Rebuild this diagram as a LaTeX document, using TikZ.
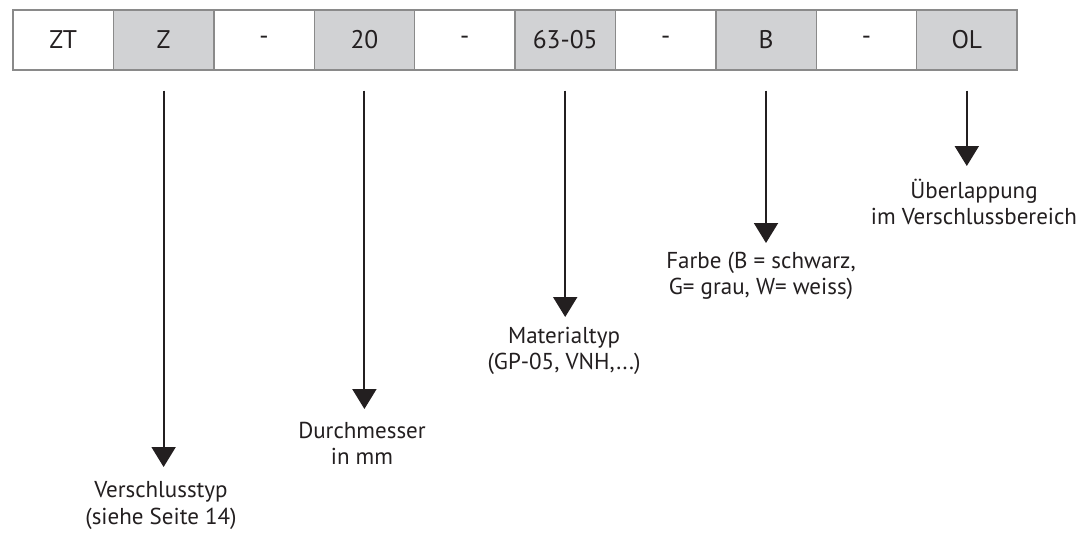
\documentclass[tikz,border=0pt]{standalone}
\usepackage{fontspec}
\setmainfont{PT Sans}
\usetikzlibrary{arrows.meta}
\definecolor{cellgrey}{RGB}{209,210,212}
\definecolor{cellline}{RGB}{138,138,138}
\definecolor{ink}{RGB}{35,31,32}
\tikzset{
  cellbox/.style={draw=cellline, line width=1.4pt, minimum width=100.4pt, minimum height=60pt,
    inner sep=0pt, text=ink, font=\fontsize{25.5pt}{29pt}\selectfont},
  greycell/.style={cellbox, fill=cellgrey},
  whitecell/.style={cellbox, fill=white},
  arr/.style={draw=ink, line width=2pt, shorten <=20pt, -{Triangle[length=20pt,width=24pt]}},
  lbl/.style={anchor=base, align=center, inner sep=0pt, text=ink, font=\fontsize{23pt}{26.5pt}\selectfont}
}
\begin{document}
\begin{tikzpicture}[x=1pt,y=-1pt]
\useasboundingbox (0,0) rectangle (1078,533);
\fill[white] (0,0) rectangle (1078,533);
% cells
\node[whitecell] (c1) at (63.2,40) {ZT};
\node[greycell]  (c2) at (163.6,40) {Z};
\node[whitecell] (c3) at (264.0,40) {-};
\node[greycell]  (c4) at (364.4,40) {20};
\node[whitecell] (c5) at (464.8,40) {-};
\node[greycell]  (c6) at (565.2,40) {63-05};
\node[whitecell] (c7) at (665.6,40) {-};
\node[greycell]  (c8) at (766.0,40) {B};
\node[whitecell] (c9) at (866.4,40) {-};
\node[greycell]  (c10) at (966.8,40) {OL};
% arrow tips
\coordinate (t2) at (163.6,467);
\coordinate (t4) at (364.4,409);
\coordinate (t6) at (565.2,317);
\coordinate (t8) at (766.0,243);
\coordinate (t10) at (966.8,166);
\draw[arr] (c2) -- (t2);
\draw[arr] (c4) -- (t4);
\draw[arr] (c6) -- (t6);
\draw[arr] (c8) -- (t8);
\draw[arr] (c10) -- (t10);
% labels (base anchor = baseline of last line)
\node[lbl] (l2) at (161,524) {Verschlusstyp\\(siehe Seite 14)};
\node[lbl] (l4) at (362,464.5) {Durchmesser\\in mm};
\node[lbl] (l6) at (564,369.5) {Materialtyp\\(GP-05, VNH,...)};
\node[lbl] (l8) at (761,294.5) {Farbe (B = schwarz,\\G= grau, W= weiss)};
\node[lbl] (l10) at (974,224.5) {Überlappung\\im Verschlussbereich};
\end{tikzpicture}
\end{document}
